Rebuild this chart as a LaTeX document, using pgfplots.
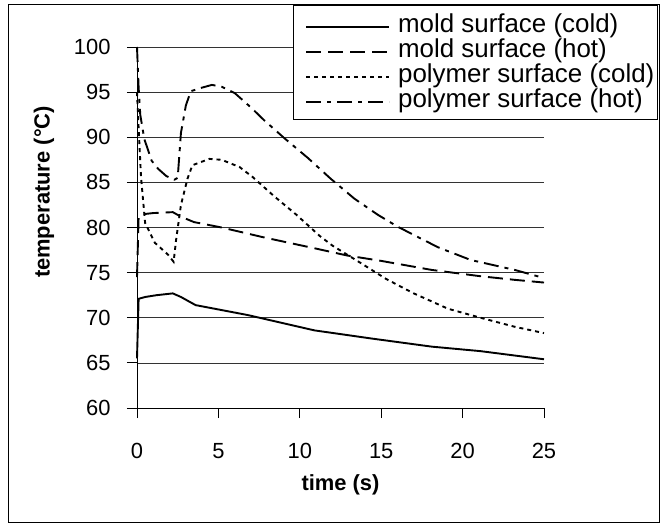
\documentclass[border=0pt]{standalone}
\usepackage{pgfplots}
\pgfplotsset{compat=1.18}
\usepackage{fontspec}
\setmainfont{Liberation Sans}
\begin{document}
\begin{tikzpicture}
\begin{axis}[
  scale only axis,
  width=407bp, height=361bp,
  xmin=0, xmax=25, ymin=60, ymax=100,
  xtick={0,5,...,25}, ytick={60,65,...,100},
  axis x line*=bottom, axis y line*=left,
  axis line style={-, line width=0.8bp, black},
  tick align=outside, major tick length=10bp,
  tick style={line width=0.8bp, black},
  ymajorgrids, grid style={line width=0.7bp, black!80},
  clip=false,
  /pgf/number format/assume math mode=true,
  ticklabel style={font=\fontsize{22}{26}\selectfont},
  xticklabel style={yshift=-22bp},
  yticklabel style={xshift=-13bp},
  xlabel={\textbf{time (s)}},
  ylabel={\textbf{temperature (°C)}},
  xlabel style={font=\fontsize{22}{26}\selectfont, at={(axis description cs:0.5,-0.2133)}, anchor=center},
  ylabel style={font=\fontsize{22}{26}\selectfont, at={(axis description cs:-0.2285,0.5983)}, anchor=center},
  legend style={at={(0.4128,1.0914)}, anchor=north west, draw=none, fill=none,
    font=\fontsize{26}{30}\selectfont, inner sep=0bp, column sep=8bp,
    nodes={inner sep=0bp, text depth=7bp, text height=18bp}},
  legend cell align=left,
  legend image code/.code={\draw[#1] (0bp,0bp) -- (83bp,0bp);},
  every axis plot/.append style={line width=1.9bp, black},
]
\addplot[solid] coordinates {
(0,65.5) (0.1,72.1) (0.5,72.3) (1.2,72.5) (2.2,72.7) (2.7,72.3) (3.6,71.4)
(6.8,70.3) (10.9,68.6) (14.4,67.7) (18.1,66.8) (21.1,66.3) (25,65.4)};
\addlegendentry{mold surface (cold)}
\addplot[dash pattern=on 15bp off 7bp] coordinates {
(0,74.5) (0.1,81.2) (0.5,81.5) (1.0,81.6) (2.2,81.7) (2.7,81.2) (3.5,80.6)
(5.2,80.0) (7.8,78.9) (10.9,77.7) (12.9,76.9) (15.0,76.3) (18.1,75.3)
(21.1,74.6) (23.2,74.2) (25,73.9)};
\addlegendentry{mold surface (hot)}
\addplot[dash pattern=on 4bp off 4bp] coordinates {
(0,95) (0.1,91) (0.25,85.5) (0.5,80.5) (1.1,78.3) (1.9,77.0) (2.25,76.2)
(2.4,78.6) (2.7,82.5) (3.1,85.4) (3.4,86.9) (4.45,87.6) (5.2,87.5) (6.3,86.7)
(7.1,85.6) (8.4,83.5) (9.8,81.4) (11.2,79.1) (12.0,78.0) (13.8,76.0)
(15.3,74.3) (17.0,72.7) (19.1,71.0) (21.1,70.0) (23.2,69.0) (25,68.3)};
\addlegendentry{polymer surface (cold)}
\addplot[dash pattern=on 15bp off 6bp on 4bp off 6bp] coordinates {
(0,100) (0.1,95.5) (0.2,92.5) (0.45,89.8) (0.9,87.4) (1.3,86.5) (1.8,85.7)
(2.3,85.3) (2.5,85.5) (2.7,90.5) (3.0,93.5) (3.3,95.1) (4.0,95.5) (4.6,95.8)
(5.2,95.6) (6.0,94.9) (7.0,93.3) (7.8,91.9) (9.05,89.9) (10.5,87.7)
(11.9,85.4) (13.35,83.2) (14.8,81.4) (16.0,80.1) (18.5,77.8) (20.5,76.4)
(23.2,75.3) (25,74.4)};
\addlegendentry{polymer surface (hot)}
\draw[line width=0.8bp, fill=white] (rel axis cs:0.3833,1.1163) rectangle (rel axis cs:1.2776,0.7992);
\end{axis}
\draw[line width=0.8bp] ([shift={(-129bp,-114bp)}]current axis.south west) rectangle ([shift={(115bp,43bp)}]current axis.north east);
\useasboundingbox ([shift={(-137bp,-119bp)}]current axis.south west) rectangle ([shift={(119bp,47bp)}]current axis.north east);
\end{tikzpicture}
\end{document}
